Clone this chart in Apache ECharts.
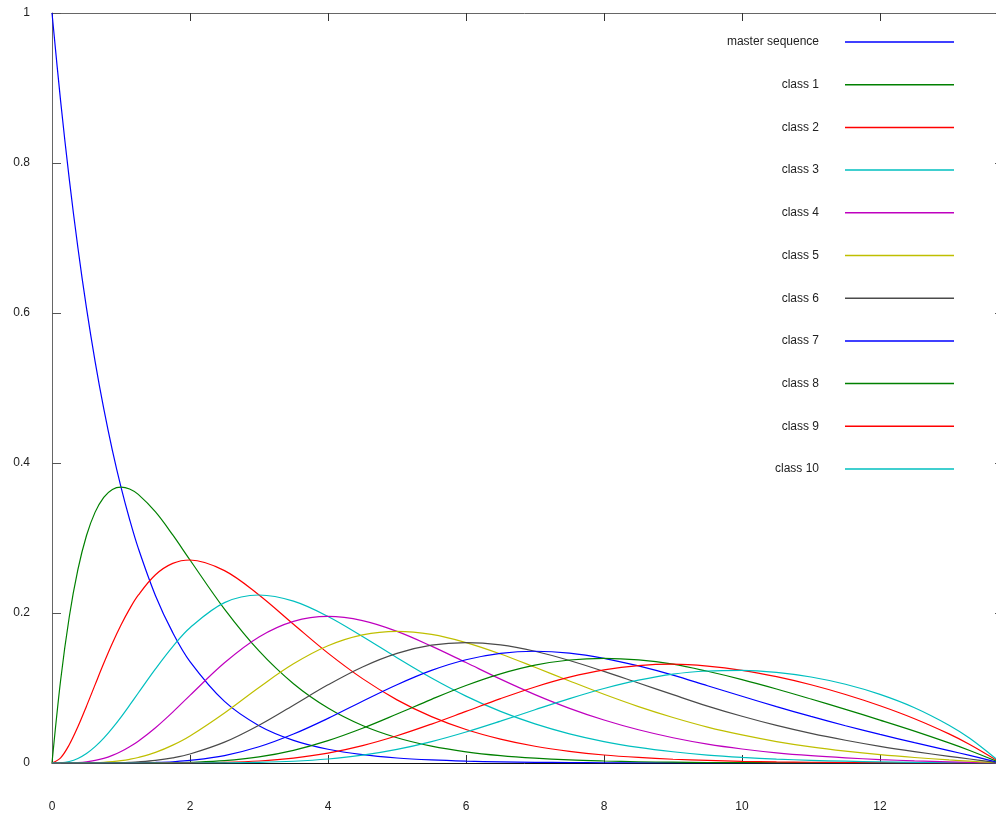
<!DOCTYPE html>
<html>
<head>
<meta charset="utf-8">
<script src="https://cdn.jsdelivr.net/npm/echarts@6/dist/echarts.min.js"></script>
<style>
html,body{margin:0;padding:0;background:#fff;}
#chart{width:996px;height:814px;}
</style>
</head>
<body>
<div id="chart"></div>
<script>
// x positions at which values were read
const xValues = [0,0.125,0.25,0.375,0.5,0.625,0.75,0.875,1,1.125,1.25,1.5,1.75,2,2.5,3,3.5,4,4.5,5,5.5,6,6.5,7,7.5,8,8.5,9,9.5,10,10.5,11,11.5,12,12.5,13,13.3,13.68];

const seriesNames = ['master sequence','class 1','class 2','class 3','class 4','class 5','class 6','class 7','class 8','class 9','class 10'];

const master = [1,.8825,.7788,.6873,.6065,.5353,.4724,.4169,.3679,.3247,.2865,.2231,.1738,.1353,.0821,.0498,.0302,.0183,.0111,.0067,.0041,.0025,.0015,.0009,.0006,.0003,.0002,.0001,.0001,0,0,0,0,0,0,0,0,0];
const class1 = [0,.1103,.1947,.2577,.3033,.3345,.3543,.3648,.3679,.3653,.3581,.3347,.3041,.2707,.2052,.1494,.1057,.0733,.05,.0337,.0225,.0149,.0098,.0064,.0041,.0027,.0017,.0011,.0007,.0005,.0003,.0002,.0001,.0001,0,0,0,0];
const class2 = [0,.0069,.0243,.0483,.0758,.1045,.1329,.1596,.1839,.2055,.2238,.2510,.2661,.2707,.2565,.2240,.1850,.1465,.1125,.0842,.0618,.0446,.0318,.0223,.0156,.0107,.0074,.0050,.0034,.0022,.0015,.0010,.0006,.0004,.0002,.0001,.0001,0];
const class3 = [0,.0003,.002,.006,.0126,.0218,.0332,.0466,.0613,.0771,.0933,.1255,.1552,.1804,.2138,.2240,.2158,.1954,.1687,.1404,.1133,.0892,.0688,.0521,.0389,.0286,.0208,.0150,.0106,.0075,.0052,.0036,.0024,.0015,.0009,.0005,.0003,0];
const class4 = [0,0,.0001,.0006,.0016,.0034,.0062,.0102,.0153,.0217,.0291,.0471,.0679,.0902,.1336,.1680,.1888,.1954,.1898,.1755,.1558,.1339,.1118,.0912,.0729,.0573,.0443,.0337,.0252,.0187,.0136,.0098,.0069,.0046,.0029,.0016,.0009,.0001];
const class5 = [0,0,0,0,.0002,.0004,.0009,.0018,.0031,.0049,.0073,.0141,.0238,.0361,.0668,.1008,.1322,.1563,.1708,.1755,.1714,.1606,.1454,.1277,.1094,.0916,.0752,.0607,.0479,.0374,.0286,.0215,.0158,.0111,.0073,.0041,.0024,.0004];
const class6 = [0,0,0,0,0,0,.0001,.0003,.0005,.0009,.0015,.0035,.0069,.0120,.0278,.0504,.0771,.1042,.1281,.1462,.1571,.1606,.1575,.1490,.1367,.1221,.1066,.0911,.0759,.0623,.0501,.0395,.0303,.0222,.0152,.0089,.0053,.0008];
const class7 = [0,0,0,0,0,0,0,0,.0001,.0001,.0003,.0008,.0017,.0034,.0099,.0216,.0386,.0595,.0824,.1044,.1235,.1377,.1462,.1490,.1465,.1396,.1294,.1171,.1030,.0890,.0752,.0621,.0497,.0381,.0272,.0165,.0101,.0016];
const class8 = [0,0,0,0,0,0,0,0,0,0,0,.0001,.0004,.0009,.0031,.0081,.0169,.0298,.0463,.0653,.0849,.1033,.1188,.1304,.1373,.1396,.1375,.1318,.1223,.1112,.0987,.0853,.0715,.0572,.0425,.0268,.0167,.0027];
const class9 = [0,0,0,0,0,0,0,0,0,0,0,0,.0001,.0002,.0009,.0027,.0066,.0132,.0232,.0363,.0519,.0688,.0858,.1014,.1144,.1241,.1299,.1318,.1292,.1236,.1151,.1043,.0913,.0763,.0590,.0388,.0247,.0042];
const class10 = [0,0,0,0,0,0,0,0,0,0,0,0,0,0,.0002,.0008,.0023,.0053,.0104,.0181,.0285,.0413,.0558,.0710,.0858,.0993,.1104,.1186,.1227,.1236,.1209,.1147,.1050,.0915,.0737,.0504,.0329,.0057];

const yTickLabels = ['0','0.2','0.4','0.6','0.8','1'];
const xTickLabels = ['0','2','4','6','8','10','12'];

const allValues = [master,class1,class2,class3,class4,class5,class6,class7,class8,class9,class10];
const colors = ['#0000ff','#008000','#ff0000','#00bfbf','#bf00bf','#bfbf00','#4a4a4a','#0000ff','#008000','#ff0000','#00bfbf'];

const X_MAX = 951/69;
const font = '"Liberation Sans", Arial, Helvetica, sans-serif';

const chart = echarts.init(document.getElementById('chart'));
chart.setOption({
  animation: false,
  backgroundColor: '#ffffff',
  color: colors,
  textStyle: {fontFamily: font},
  grid: {left: 52, top: 13, width: 951, bottom: 51, containLabel: false, outerBoundsMode: 'none'},
  legend: {
    orient: 'vertical',
    align: 'right',
    right: 37,
    top: 30,
    icon: 'rect',
    itemWidth: 109,
    itemHeight: 1.5,
    itemGap: 28.7,
    itemStyle: {borderWidth: 0},
    data: seriesNames,
    textStyle: {fontSize: 12, lineHeight: 14, color: '#222', fontFamily: font, padding: [0, 21, 0, 0]}
  },
  xAxis: [
    {
      type: 'value', min: 0, max: X_MAX, interval: 2, position: 'bottom',
      axisLine: {lineStyle: {color: '#111', width: 1}},
      axisTick: {inside: true, length: 8, lineStyle: {color: '#333'}},
      axisLabel: {margin: 38, fontSize: 12, color: '#222', fontFamily: font, showMaxLabel: false,
        formatter: function (v) { const i = xTickLabels.indexOf(String(v)); return i >= 0 ? xTickLabels[i] : ''; }},
      splitLine: {show: false}
    },
    {
      type: 'value', min: 0, max: X_MAX, interval: 2, position: 'top',
      axisLine: {onZero: false, lineStyle: {color: '#666', width: 1}},
      axisTick: {inside: true, length: 8, lineStyle: {color: '#333'}},
      axisLabel: {show: false},
      splitLine: {show: false}
    }
  ],
  yAxis: [
    {
      type: 'value', min: 0, max: 1, interval: 0.2, position: 'left',
      axisLine: {show: true, onZero: false, lineStyle: {color: '#666', width: 1}},
      axisTick: {show: true, inside: true, length: 9, lineStyle: {color: '#555'}},
      axisLabel: {margin: 22, fontSize: 12, color: '#222', fontFamily: font,
        formatter: function (v) { const i = Math.round(v / 0.2); return yTickLabels[i]; }},
      splitLine: {show: false}
    },
    {
      type: 'value', min: 0, max: 1, interval: 0.2, position: 'right',
      axisLine: {show: true, onZero: false, lineStyle: {color: '#666', width: 1}},
      axisTick: {show: true, inside: true, length: 8, lineStyle: {color: '#555'}},
      axisLabel: {show: false},
      splitLine: {show: false}
    }
  ],
  series: allValues.map(function (vals, k) {
    return {
      name: seriesNames[k],
      type: 'line',
      xAxisIndex: 0,
      yAxisIndex: 0,
      symbol: 'none',
      smooth: 0.35,
      lineStyle: {width: 1.2, color: colors[k]},
      itemStyle: {color: colors[k]},
      data: xValues.map(function (x, i) { return [x, vals[i]]; })
    };
  })
});
</script>
</body>
</html>
